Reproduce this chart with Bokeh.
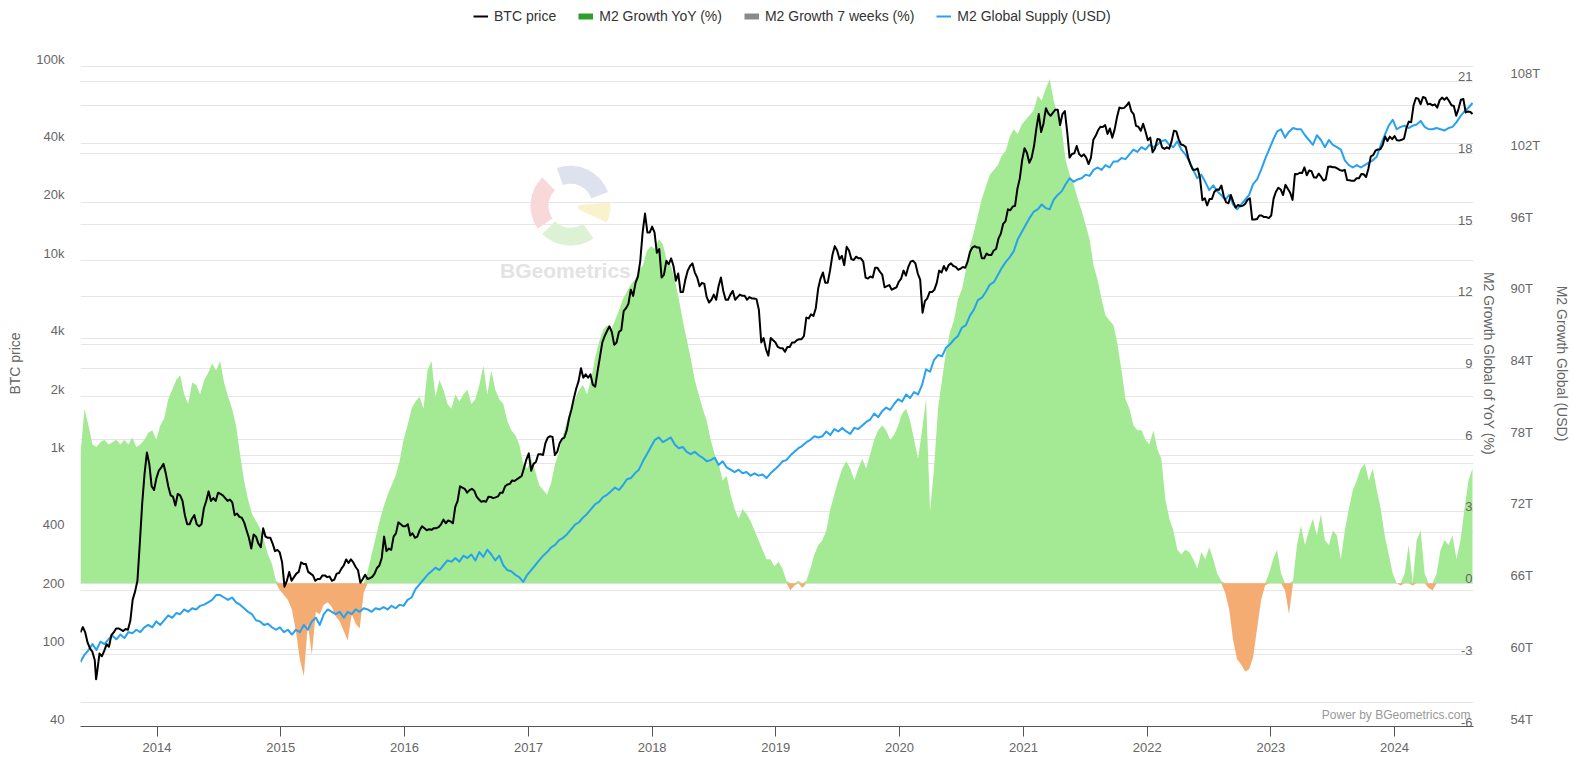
import numpy as np
import pandas as pd
from bokeh.plotting import figure
from bokeh.models import (Range1d, LinearAxis, LogAxis, LogScale, FixedTicker, Grid,
                          Legend, LegendItem, Label, DatetimeTickFormatter, ColumnDataSource)
from bokeh.core.properties import value
from bokeh.embed import file_html
from bokeh.resources import INLINE

FONT = "Liberation Sans"

# ---------------- data ----------------
btc_dates = [
 "2013-05-20","2013-05-27","2013-06-03","2013-06-10","2013-06-17","2013-06-24","2013-07-01","2013-07-05","2013-07-08","2013-07-15",
 "2013-07-22","2013-07-29","2013-08-05","2013-08-12","2013-08-19","2013-08-26","2013-09-02","2013-09-09","2013-09-16","2013-09-23",
 "2013-09-30","2013-10-07","2013-10-14","2013-10-21","2013-10-28","2013-11-04","2013-11-11","2013-11-18","2013-11-25","2013-12-02",
 "2013-12-09","2013-12-16","2013-12-23","2013-12-30","2014-01-06","2014-01-13","2014-01-20","2014-01-27","2014-02-03","2014-02-10",
 "2014-02-17","2014-02-24","2014-03-03","2014-03-10","2014-03-17","2014-03-24","2014-03-31","2014-04-07","2014-04-14","2014-04-21",
 "2014-04-28","2014-05-05","2014-05-12","2014-05-19","2014-05-26","2014-06-02","2014-06-09","2014-06-16","2014-06-23","2014-06-30",
 "2014-07-07","2014-07-14","2014-07-21","2014-07-28","2014-08-04","2014-08-11","2014-08-18","2014-08-25","2014-09-01","2014-09-08",
 "2014-09-15","2014-09-22","2014-09-29","2014-10-06","2014-10-13","2014-10-20","2014-10-27","2014-11-03","2014-11-10","2014-11-17",
 "2014-11-24","2014-12-01","2014-12-08","2014-12-15","2014-12-22","2014-12-29","2015-01-05","2015-01-12","2015-01-19","2015-01-26",
 "2015-02-02","2015-02-09","2015-02-16","2015-02-23","2015-03-02","2015-03-09","2015-03-16","2015-03-23","2015-03-30","2015-04-06",
 "2015-04-13","2015-04-20","2015-04-27","2015-05-04","2015-05-11","2015-05-18","2015-05-25","2015-06-01","2015-06-08","2015-06-15",
 "2015-06-22","2015-06-29","2015-07-06","2015-07-13","2015-07-20","2015-07-27","2015-08-03","2015-08-10","2015-08-17","2015-08-24",
 "2015-08-31","2015-09-07","2015-09-14","2015-09-21","2015-09-28","2015-10-05","2015-10-12","2015-10-19","2015-10-26","2015-11-02",
 "2015-11-09","2015-11-16","2015-11-23","2015-11-30","2015-12-07","2015-12-14","2015-12-21","2015-12-28","2016-01-04","2016-01-11",
 "2016-01-18","2016-01-25","2016-02-01","2016-02-08","2016-02-15","2016-02-22","2016-02-29","2016-03-07","2016-03-14","2016-03-21",
 "2016-03-28","2016-04-04","2016-04-11","2016-04-18","2016-04-25","2016-05-02","2016-05-09","2016-05-16","2016-05-23","2016-05-30",
 "2016-06-06","2016-06-13","2016-06-20","2016-06-27","2016-07-04","2016-07-11","2016-07-18","2016-07-25","2016-08-01","2016-08-08",
 "2016-08-15","2016-08-22","2016-08-29","2016-09-05","2016-09-12","2016-09-19","2016-09-26","2016-10-03","2016-10-10","2016-10-17",
 "2016-10-24","2016-10-31","2016-11-07","2016-11-14","2016-11-21","2016-11-28","2016-12-05","2016-12-12","2016-12-19","2016-12-26",
 "2017-01-02","2017-01-09","2017-01-16","2017-01-23","2017-01-30","2017-02-06","2017-02-13","2017-02-20","2017-02-27","2017-03-06",
 "2017-03-13","2017-03-20","2017-03-27","2017-04-03","2017-04-10","2017-04-17","2017-04-24","2017-05-01","2017-05-08","2017-05-15",
 "2017-05-22","2017-05-29","2017-06-05","2017-06-12","2017-06-19","2017-06-26","2017-07-03","2017-07-10","2017-07-17","2017-07-24",
 "2017-07-31","2017-08-07","2017-08-14","2017-08-21","2017-08-28","2017-09-04","2017-09-11","2017-09-18","2017-09-25","2017-10-02",
 "2017-10-09","2017-10-16","2017-10-23","2017-10-30","2017-11-06","2017-11-13","2017-11-20","2017-11-27","2017-12-04","2017-12-11",
 "2017-12-18","2017-12-25","2018-01-01","2018-01-08","2018-01-15","2018-01-22","2018-01-29","2018-02-05","2018-02-12","2018-02-19",
 "2018-02-26","2018-03-05","2018-03-12","2018-03-19","2018-03-26","2018-04-02","2018-04-09","2018-04-16","2018-04-23","2018-04-30",
 "2018-05-07","2018-05-14","2018-05-21","2018-05-28","2018-06-04","2018-06-11","2018-06-18","2018-06-25","2018-07-02","2018-07-09",
 "2018-07-16","2018-07-23","2018-07-30","2018-08-06","2018-08-13","2018-08-20","2018-08-27","2018-09-03","2018-09-10","2018-09-17",
 "2018-09-24","2018-10-01","2018-10-08","2018-10-15","2018-10-22","2018-10-29","2018-11-05","2018-11-12","2018-11-19","2018-11-26",
 "2018-12-03","2018-12-10","2018-12-17","2018-12-24","2018-12-31","2019-01-07","2019-01-14","2019-01-21","2019-01-28","2019-02-04",
 "2019-02-11","2019-02-18","2019-02-25","2019-03-04","2019-03-11","2019-03-18","2019-03-25","2019-04-01","2019-04-08","2019-04-15",
 "2019-04-22","2019-04-29","2019-05-06","2019-05-13","2019-05-20","2019-05-27","2019-06-03","2019-06-10","2019-06-17","2019-06-24",
 "2019-07-01","2019-07-08","2019-07-15","2019-07-22","2019-07-29","2019-08-05","2019-08-12","2019-08-19","2019-08-26","2019-09-02",
 "2019-09-09","2019-09-16","2019-09-23","2019-09-30","2019-10-07","2019-10-14","2019-10-21","2019-10-28","2019-11-04","2019-11-11",
 "2019-11-18","2019-11-25","2019-12-02","2019-12-09","2019-12-16","2019-12-23","2019-12-30","2020-01-06","2020-01-13","2020-01-20",
 "2020-01-27","2020-02-03","2020-02-10","2020-02-17","2020-02-24","2020-03-02","2020-03-09","2020-03-16","2020-03-23","2020-03-30",
 "2020-04-06","2020-04-13","2020-04-20","2020-04-27","2020-05-04","2020-05-11","2020-05-18","2020-05-25","2020-06-01","2020-06-08",
 "2020-06-15","2020-06-22","2020-06-29","2020-07-06","2020-07-13","2020-07-20","2020-07-27","2020-08-03","2020-08-10","2020-08-17",
 "2020-08-24","2020-08-31","2020-09-07","2020-09-14","2020-09-21","2020-09-28","2020-10-05","2020-10-12","2020-10-19","2020-10-26",
 "2020-11-02","2020-11-09","2020-11-16","2020-11-23","2020-11-30","2020-12-07","2020-12-14","2020-12-21","2020-12-28","2021-01-04",
 "2021-01-11","2021-01-18","2021-01-25","2021-02-01","2021-02-08","2021-02-15","2021-02-22","2021-03-01","2021-03-08","2021-03-15",
 "2021-03-22","2021-03-29","2021-04-05","2021-04-12","2021-04-19","2021-04-26","2021-05-03","2021-05-10","2021-05-17","2021-05-24",
 "2021-05-31","2021-06-07","2021-06-14","2021-06-21","2021-06-28","2021-07-05","2021-07-12","2021-07-19","2021-07-26","2021-08-02",
 "2021-08-09","2021-08-16","2021-08-23","2021-08-30","2021-09-06","2021-09-13","2021-09-20","2021-09-27","2021-10-04","2021-10-11",
 "2021-10-18","2021-10-25","2021-11-01","2021-11-08","2021-11-15","2021-11-22","2021-11-29","2021-12-06","2021-12-13","2021-12-20",
 "2021-12-27","2022-01-03","2022-01-10","2022-01-17","2022-01-24","2022-01-31","2022-02-07","2022-02-14","2022-02-21","2022-02-28",
 "2022-03-07","2022-03-14","2022-03-21","2022-03-28","2022-04-04","2022-04-11","2022-04-18","2022-04-25","2022-05-02","2022-05-09",
 "2022-05-16","2022-05-23","2022-05-30","2022-06-06","2022-06-13","2022-06-20","2022-06-27","2022-07-04","2022-07-11","2022-07-18",
 "2022-07-25","2022-08-01","2022-08-08","2022-08-15","2022-08-22","2022-08-29","2022-09-05","2022-09-12","2022-09-19","2022-09-26",
 "2022-10-03","2022-10-10","2022-10-17","2022-10-24","2022-10-31","2022-11-07","2022-11-14","2022-11-21","2022-11-28","2022-12-05",
 "2022-12-12","2022-12-19","2022-12-26","2023-01-02","2023-01-09","2023-01-16","2023-01-23","2023-01-30","2023-02-06","2023-02-13",
 "2023-02-20","2023-02-27","2023-03-06","2023-03-13","2023-03-20","2023-03-27","2023-04-03","2023-04-10","2023-04-17","2023-04-24",
 "2023-05-01","2023-05-08","2023-05-15","2023-05-22","2023-05-29","2023-06-05","2023-06-12","2023-06-19","2023-06-26","2023-07-03",
 "2023-07-10","2023-07-17","2023-07-24","2023-07-31","2023-08-07","2023-08-14","2023-08-21","2023-08-28","2023-09-04","2023-09-11",
 "2023-09-18","2023-09-25","2023-10-02","2023-10-09","2023-10-16","2023-10-23","2023-10-30","2023-11-06","2023-11-13","2023-11-20",
 "2023-11-27","2023-12-04","2023-12-11","2023-12-18","2023-12-25","2024-01-01","2024-01-08","2024-01-15","2024-01-22","2024-01-29",
 "2024-02-05","2024-02-12","2024-02-19","2024-02-26","2024-03-04","2024-03-11","2024-03-18","2024-03-25","2024-04-01","2024-04-08",
 "2024-04-15","2024-04-22","2024-04-29","2024-05-06","2024-05-13","2024-05-20","2024-05-27","2024-06-03","2024-06-10","2024-06-17",
 "2024-06-24","2024-07-01","2024-07-08","2024-07-15","2024-07-22","2024-07-29","2024-08-05","2024-08-12","2024-08-18",
]
btc_price = [
 122,130,122,108,101,97,88,70,76,95,
 92,98,106,103,118,122,128,128,126,124,
 127,126,140,180,198,225,350,560,800,1030,
 900,690,660,760,830,860,900,800,690,620,
 610,550,630,620,580,490,440,440,470,490,
 440,430,440,530,580,650,580,600,580,640,
 630,620,600,580,590,570,490,500,480,475,
 450,410,375,330,390,380,350,335,420,380,
 375,375,350,320,325,315,280,210,225,250,
 225,235,245,250,280,275,275,250,245,240,
 225,230,230,240,240,235,237,225,228,245,
 247,260,270,290,278,290,280,265,255,220,
 230,242,230,232,236,245,262,270,295,380,
 320,330,325,380,395,450,440,430,430,440,
 385,395,375,380,410,430,420,410,415,412,
 420,420,425,440,465,445,460,455,445,540,
 580,690,680,670,640,660,670,655,610,590,
 575,580,575,610,608,600,605,612,640,640,
 690,705,710,740,735,750,765,780,860,950,
 1020,830,900,920,1010,1010,1000,1150,1230,1250,
 1240,1000,1040,1150,1210,1230,1340,1550,1720,1960,
 2200,2400,2800,2500,2600,2500,2600,2300,2250,2700,
 3200,3800,4100,4350,4600,4300,3700,3800,4300,4400,
 5500,5700,6000,7100,6600,7700,8300,10000,14000,17500,
 14000,14000,15000,14000,11000,11500,8200,8500,10000,9600,
 10300,9400,7900,8600,6900,6900,8000,8900,9400,9700,
 8700,8200,7400,7700,7600,6500,6100,6300,6700,6300,
 7400,8200,7000,6300,6300,6700,7000,6300,6500,6700,
 6600,6600,6300,6500,6400,6400,6350,5600,3800,4000,
 3500,3250,4000,3900,3800,3600,3550,3550,3400,3600,
 3600,3800,3800,3900,3950,3950,4100,5100,5050,5300,
 5200,5700,7200,8100,8700,7700,7700,8900,10700,11900,
 11300,10200,10600,9500,11800,11300,10200,10100,10500,10300,
 10300,9900,8200,8100,8300,8200,9200,9200,8800,8500,
 7300,7400,7500,7100,7200,7300,7800,8100,8900,8400,
 9300,9900,10000,9700,8600,8000,5400,6200,6400,6900,
 6900,7100,7700,8900,8700,9400,8900,9500,9700,9400,
 9300,9000,9100,9300,9200,9900,11100,11700,11900,11700,
 11700,10300,10300,10900,10700,10700,11300,11500,13000,13800,
 15500,16000,18400,18200,19000,19200,23500,26500,33000,38000,
 36000,32000,34000,39000,48000,57000,46000,51000,61000,57500,
 55800,58000,60000,60000,50000,57000,59000,46000,34000,35500,
 35800,39000,35500,34500,35300,34000,31500,34000,42000,44000,
 47000,49000,48800,50000,45000,48000,43000,47500,55000,61500,
 61000,61300,63000,65500,59000,57000,49500,49000,46700,50800,
 46300,41800,43100,36200,37900,42400,42200,38400,37700,38400,
 37800,41200,46800,46400,42200,39700,39400,38500,34000,31300,
 29400,29400,29900,26600,20500,21000,19300,20800,20800,22600,
 23300,23200,24400,21500,20000,19800,21800,20100,18800,19400,
 19100,19200,19600,20600,21000,16300,16300,16400,17100,17100,
 16800,16800,16600,17100,20900,22700,23800,23300,21800,24600,
 23500,22400,20600,28000,27900,28400,28300,30300,27600,29200,
 28900,26900,26800,28100,27100,25900,26300,30500,30600,30300,
 30300,29800,29300,29100,29400,26100,26000,25800,25800,26600,
 26600,28000,27900,27000,29900,34500,35000,37000,37400,37500,
 39500,43700,41400,43600,42300,43900,41700,41600,42000,42600,
 48300,52100,51700,63000,68900,68400,64000,69700,68900,63900,
 64300,63100,63900,61500,67000,69300,67500,69300,66500,63200,
 62700,55800,60800,67600,68200,58100,58700,58400,57000,
]

# Evenly spaced samples from series_start to series_end
series_start, series_end = "2013-05-20", "2024-08-18"
m2_yoy = [
 5.4, 7.3, 6.6, 5.8, 5.7, 5.9, 6.0, 5.8, 5.9, 6.0,
 5.8, 6.0, 5.8, 6.1, 5.7, 5.8, 6.0, 6.3, 6.4, 6.0,
 6.6, 6.9, 7.7, 8.1, 8.5, 8.7, 7.9, 7.5, 8.4, 8.3,
 7.9, 8.5, 8.8, 9.2, 8.9, 9.3, 8.4, 7.8, 7.3, 6.6,
 5.4, 4.3, 3.5, 2.9, 2.6, 2.3, 1.8, 1.2, 0.8, 0.1,
 -0.3, -0.5, -0.7, -1.1, -2.0, -3.2, -3.9, -1.7, -3.0, -1.2,
 -1.3, -0.9, -0.8, -1.0, -1.4, -1.6, -2.0, -2.4, -1.3, -1.7,
 -1.9, -0.4, 0.5, 1.2, 1.9, 2.6, 3.2, 3.7, 4.1, 4.5,
 5.1, 6.0, 6.6, 7.3, 7.6, 7.8, 7.3, 8.9, 9.3, 7.8,
 8.5, 8.1, 7.5, 7.3, 7.9, 7.6, 7.9, 8.1, 7.5, 7.7,
 8.3, 9.1, 7.9, 8.9, 8.1, 7.7, 7.5, 6.8, 6.4, 6.2,
 5.8, 5.0, 4.8, 5.2, 4.7, 4.1, 3.9, 3.7, 4.2, 5.0,
 5.5, 6.2, 6.8, 7.3, 7.7, 8.1, 8.3, 7.9, 8.5, 9.4,
 10.1, 10.6, 10.8, 10.6, 11.0, 11.4, 11.9, 12.2, 12.5, 12.7,
 13.1, 13.3, 13.9, 14.1, 14.0, 14.4, 14.2, 13.5, 13.3, 12.7,
 11.9, 11.0, 10.2, 9.4, 8.5, 7.9, 7.3, 6.8, 6.0, 5.4,
 5.0, 4.3, 4.5, 3.7, 3.1, 2.7, 3.1, 2.9, 2.6, 2.2,
 1.8, 1.4, 1.0, 1.0, 0.7, 0.9, 0.6, 0.1, -0.3, -0.1,
 0.1, -0.2, 0.1, 0.6, 1.2, 1.6, 1.8, 2.2, 3.1, 3.7,
 4.3, 4.8, 5.1, 4.8, 4.3, 4.8, 5.2, 4.8, 5.4, 6.0,
 6.4, 6.6, 6.4, 6.0, 6.2, 6.6, 7.1, 7.3, 6.8, 6.0,
 5.2, 6.4, 7.7, 3.0, 4.8, 7.3, 8.5, 9.7, 10.5, 11.0,
 11.9, 12.3, 13.1, 14.1, 14.7, 15.4, 16.1, 16.6, 17.1, 17.3,
 17.5, 17.9, 18.1, 18.7, 19.0, 18.8, 19.2, 19.4, 19.6, 19.8,
 20.4, 20.2, 20.7, 21.1, 20.2, 19.6, 19.0, 17.7, 17.1, 16.7,
 16.1, 15.6, 15.0, 14.4, 13.3, 12.7, 11.9, 11.2, 11.0, 10.8,
 10.0, 8.9, 7.7, 7.3, 6.6, 6.4, 6.4, 6.0, 5.8, 6.4,
 5.6, 5.2, 3.5, 2.7, 2.2, 1.4, 1.2, 1.4, 1.3, 1.0,
 0.6, 1.3, 1.0, 1.5, 1.0, 0.4, 0.1, -0.4, -1.1, -2.4,
 -3.2, -3.4, -3.7, -3.6, -3.1, -1.9, -0.7, -0.1, 0.4, 1.0,
 1.4, 0.4, -0.3, -1.3, 0.1, 1.6, 2.4, 1.6, 2.2, 2.7,
 2.0, 2.9, 1.8, 1.6, 2.2, 2.0, 1.0, 2.2, 3.1, 3.9,
 4.3, 4.8, 5.0, 4.3, 4.8, 3.9, 3.1, 2.0, 1.2, 0.4,
 0.0, -0.1, 0.4, 1.6, -0.1, 1.8, 2.2, 0.4, -0.2, -0.3,
 0.4, 1.4, 1.8, 1.6, 2.0, 1.0, 1.8, 3.1, 4.3, 4.8,
]
m2_supply_t = [
 59.4, 60.0, 60.4, 60.9, 60.4, 61.1, 60.9, 61.3, 61.6, 61.3,
 61.7, 61.4, 61.9, 61.8, 62.1, 61.9, 62.3, 62.5, 62.3, 62.8,
 62.5, 62.9, 63.3, 63.1, 63.5, 63.4, 63.8, 63.6, 63.9, 63.8,
 64.1, 64.2, 64.4, 64.6, 65.0, 65.0, 64.8, 64.6, 64.8, 64.4,
 64.2, 63.9, 63.6, 63.4, 62.9, 62.8, 62.5, 62.6, 62.3, 62.1,
 62.3, 61.9, 62.1, 61.7, 62.1, 61.9, 62.5, 62.1, 62.8, 63.1,
 62.5, 63.4, 63.8, 63.6, 63.4, 63.6, 63.1, 63.6, 63.4, 63.8,
 63.6, 63.9, 63.8, 63.6, 63.9, 63.8, 64.0, 63.8, 64.1, 63.9,
 64.2, 64.1, 64.6, 64.8, 65.5, 65.9, 66.3, 66.7, 67.0, 67.3,
 67.1, 67.5, 67.9, 67.8, 68.1, 67.8, 68.3, 68.1, 68.4, 67.9,
 68.6, 68.2, 68.8, 68.4, 67.9, 68.3, 67.5, 67.1, 67.0, 66.7,
 66.5, 66.1, 66.7, 67.1, 67.5, 67.9, 68.3, 68.6, 69.0, 69.2,
 69.6, 69.8, 70.1, 70.5, 70.9, 71.1, 71.5, 71.8, 72.2, 72.6,
 72.8, 73.2, 73.4, 73.7, 74.0, 73.8, 74.2, 74.7, 74.8, 75.2,
 75.5, 76.2, 76.8, 77.4, 78.0, 78.2, 77.8, 78.0, 78.2, 77.6,
 77.3, 77.4, 77.0, 76.8, 77.0, 76.7, 76.5, 76.2, 76.3, 76.5,
 75.9, 76.2, 75.7, 75.5, 75.3, 75.5, 75.2, 75.3, 75.0, 75.2,
 75.0, 75.1, 74.8, 75.2, 75.5, 75.8, 76.2, 76.3, 76.7, 77.0,
 77.3, 77.5, 77.8, 78.0, 78.3, 78.2, 78.3, 78.7, 78.4, 78.9,
 78.7, 79.0, 78.7, 78.5, 79.0, 78.9, 79.2, 79.5, 79.7, 80.2,
 79.9, 80.4, 80.7, 80.5, 81.0, 81.4, 81.2, 81.8, 81.5, 82.0,
 81.8, 82.6, 83.9, 83.7, 84.7, 85.1, 85.0, 85.7, 86.0, 86.4,
 86.7, 87.4, 87.6, 88.4, 88.9, 89.7, 89.9, 90.4, 91.0, 91.2,
 91.8, 92.4, 92.9, 93.3, 93.8, 94.8, 95.4, 96.0, 96.6, 97.1,
 97.3, 97.7, 97.4, 97.3, 98.1, 98.5, 98.8, 99.4, 99.9, 99.6,
 99.8, 99.9, 100.2, 100.1, 100.6, 100.8, 100.6, 101.0, 100.8, 101.3,
 101.3, 101.6, 101.5, 101.9, 102.3, 102.1, 102.5, 102.3, 102.7, 102.5,
 102.7, 103.0, 103.1, 102.7, 102.5, 103.0, 102.3, 101.9, 101.3, 100.6,
 99.9, 100.2, 99.6, 98.9, 99.3, 98.8, 98.5, 98.1, 98.5, 97.7,
 97.3, 97.7, 98.1, 98.5, 99.4, 99.8, 100.6, 101.5, 102.3, 103.1,
 103.8, 104.0, 103.3, 103.8, 104.1, 104.0, 104.0, 103.5, 103.1, 102.7,
 103.5, 103.1, 102.5, 103.1, 102.7, 102.5, 102.3, 101.4, 101.0, 100.8,
 101.0, 100.8, 101.0, 101.2, 101.4, 101.7, 102.7, 103.5, 104.3, 104.8,
 104.0, 104.2, 104.3, 104.1, 104.3, 104.4, 104.7, 104.2, 104.0, 104.0,
 104.1, 104.0, 103.9, 104.1, 104.2, 104.6, 105.1, 105.5, 105.8, 106.2,
]

year_ticks = list(range(2014, 2025))
btc_ticks = [40, 100, 200, 400, 1000, 2000, 4000, 10000, 20000, 40000, 100000]
btc_tick_labels = ["40", "100", "200", "400", "1k", "2k", "4k", "10k", "20k", "40k", "100k"]
yoy_ticks = [-6, -3, 0, 3, 6, 9, 12, 15, 18, 21]
usd_ticks = [54, 60, 66, 72, 78, 84, 90, 96, 102, 108]
usd_tick_labels = ["54T", "60T", "66T", "72T", "78T", "84T", "90T", "96T", "102T", "108T"]


def ms(d):
    return pd.Timestamp(d).value / 1e6


# ---------------- figure ----------------
x_start, x_end = pd.Timestamp("2013-05-20"), pd.Timestamp("2024-08-21")
p = figure(width=1573, height=758, x_axis_type="datetime", y_axis_location=None,
           x_range=Range1d(x_start, x_end), y_range=Range1d(-6, 24.39),
           output_backend="svg", toolbar_location=None,
           min_border_left=80, min_border_right=96, min_border_top=0, min_border_bottom=32,
           outline_line_color=None, background_fill_color="white", border_fill_color="white")
p.extra_y_ranges = {"btc": Range1d(40, 218970), "usd": Range1d(54, 114.78)}
p.extra_y_scales = {"btc": LogScale()}

p.xgrid.visible = False
GRID = "#e6e6e6"
p.add_layout(Grid(dimension=1, ticker=FixedTicker(ticks=btc_ticks), y_range_name="btc",
                  grid_line_color=GRID))
p.add_layout(Grid(dimension=1, ticker=FixedTicker(ticks=yoy_ticks), grid_line_color=GRID))

# x axis
xa = p.xaxis[0]
xa.ticker = FixedTicker(ticks=[ms(f"{y}-01-01") for y in year_ticks])
xa.formatter = DatetimeTickFormatter(years="%Y", months="%Y", days="%Y", hours="%Y",
                                     hourmin="%Y", minutes="%Y", minsec="%Y", seconds="%Y")
xa.axis_line_color = "#555555"
xa.major_tick_line_color = "#555555"
xa.major_tick_out = 10
xa.major_tick_in = 0
xa.minor_tick_line_color = None
xa.major_label_standoff = 6
xa.major_label_text_font = FONT
xa.major_label_text_font_size = "13px"
xa.major_label_text_color = "#666666"


def style_y(ax):
    ax.axis_line_color = None
    ax.major_tick_line_color = None
    ax.minor_tick_line_color = None
    ax.major_label_text_font = FONT
    ax.major_label_text_font_size = "13px"
    ax.major_label_text_color = "#666666"
    ax.axis_label_text_font = FONT
    ax.axis_label_text_font_size = "14px"
    ax.axis_label_text_font_style = "normal"
    ax.axis_label_text_color = "#666666"


# tick labels sit just above their grid lines in the original: a trailing empty line lifts them
ax_btc = LogAxis(y_range_name="btc", ticker=FixedTicker(ticks=btc_ticks), axis_label="BTC price")
ax_btc.major_label_overrides = {t: l + "\n" for t, l in zip(btc_ticks, btc_tick_labels)}
style_y(ax_btc)
ax_btc.major_label_text_line_height = 1.0
ax_btc.major_label_standoff = 10
ax_btc.axis_label_standoff = 10
p.add_layout(ax_btc, "left")

ax_yoy = LinearAxis(ticker=FixedTicker(ticks=[]), axis_label="M2 Growth Global of YoY (%)")
style_y(ax_yoy)
ax_yoy.axis_label_standoff = 7
p.add_layout(ax_yoy, "right")

ax_usd = LinearAxis(y_range_name="usd", ticker=FixedTicker(ticks=usd_ticks),
                    axis_label="M2 Growth Global (USD)")
ax_usd.major_label_overrides = {t: l + "\n" for t, l in zip(usd_ticks, usd_tick_labels)}
style_y(ax_usd)
ax_usd.major_label_text_line_height = 1.0
ax_usd.major_label_standoff = 5
ax_usd.axis_label_standoff = 11
p.add_layout(ax_usd, "right")

# ---------------- watermark ----------------
logo_x, logo_y = pd.Timestamp("2017-05-05"), 15.8
for c, a0, a1, r0, r1 in [("#dde2ee", 20, 110, 22, 40), ("#f8d8d8", 135, 215, 22, 40),
                          ("#f8f3cc", -25, 5, 8, 40), ("#ddf2d5", 225, 305, 22, 40)]:
    p.annular_wedge(x=[logo_x], y=[logo_y], inner_radius=r0, outer_radius=r1,
                    inner_radius_units="screen", outer_radius_units="screen",
                    start_angle=np.deg2rad(a0), end_angle=np.deg2rad(a1),
                    fill_color=c, line_color=None)
p.add_layout(Label(x=ms("2017-04-20"), y=13.1, text="BGeometrics", text_align="center",
                   text_baseline="middle", text_font=FONT, text_font_size="21px",
                   text_font_style="bold", text_color="#e3e3e3"))

# ---------------- series ----------------
d_m2 = pd.date_range(series_start, series_end, periods=len(m2_yoy))
yoy = np.array(m2_yoy)
p.varea(x=d_m2, y1=0, y2=np.clip(yoy, 0, None), fill_color="#a4e993")
p.varea(x=d_m2, y1=0, y2=np.clip(yoy, None, 0), fill_color="#f4ac72")

d_sup = pd.date_range(series_start, series_end, periods=len(m2_supply_t))
r_m2 = p.line(d_sup, m2_supply_t, y_range_name="usd", line_color="#28a1ee", line_width=2,
              line_join="round")
r_btc = p.line(pd.to_datetime(btc_dates), btc_price, y_range_name="btc", line_color="black",
               line_width=2, line_join="round")

# YoY tick labels drawn inside the plot area (as in the original)
tick_src = ColumnDataSource(dict(x=[x_end] * len(yoy_ticks), y=yoy_ticks,
                                 t=[str(v) for v in yoy_ticks]))
p.text(x="x", y="y", text="t", source=tick_src, text_align="right", text_baseline="bottom",
       text_font=value(FONT), text_font_size="13px", text_color="#666666", x_offset=-1)

p.add_layout(Label(x=ms(x_end), y=-5.5, x_offset=-3, text="Power by BGeometrics.com",
                   text_align="right", text_baseline="middle", text_font=FONT,
                   text_font_size="12px", text_color="#999999"))

# legend-only series (no visible data points: values are NaN)
nan2 = [np.nan, np.nan]
d_green = p.line(x=[x_start, x_end], y=nan2, line_color="#2e9e2e", line_width=6)
d_grey = p.line(x=[x_start, x_end], y=nan2, line_color="#8a8a8a", line_width=6)
legend = Legend(items=[LegendItem(label="BTC price", renderers=[r_btc]),
                       LegendItem(label="M2 Growth YoY (%)", renderers=[d_green]),
                       LegendItem(label="M2 Growth 7 weeks (%)", renderers=[d_grey]),
                       LegendItem(label="M2 Global Supply (USD)", renderers=[r_m2])],
                orientation="horizontal", location=(393, 702),
                border_line_color=None, background_fill_alpha=0,
                label_text_font=FONT, label_text_font_size="14px", label_text_color="#333333",
                glyph_width=15, glyph_height=16, label_standoff=6, spacing=22,
                padding=0, margin=0)
p.add_layout(legend)

open("out.html", "w").write(file_html(p, INLINE))
